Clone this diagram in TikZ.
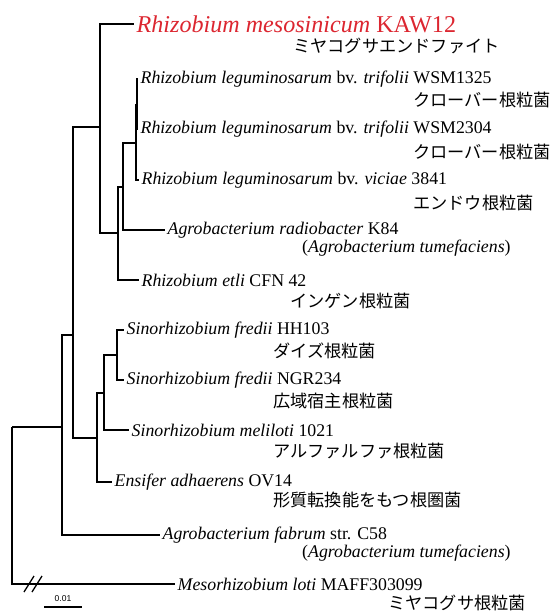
\documentclass[tikz,border=0pt]{standalone}
\usepackage{fontspec}
\setmainfont{Liberation Serif}
\setsansfont{Liberation Sans}
\newfontfamily\jafont{Noto Sans CJK JP}
\usepackage{tikz}
\usetikzlibrary{positioning}
\definecolor{kawred}{HTML}{DC2630}

\begin{document}
\begin{tikzpicture}[x=1pt,y=-1pt,
  branch/.style={line width=1.7pt,line join=miter},
  taxon/.style={anchor=west,inner sep=2.5pt,font=\fontsize{17.8}{20}\selectfont},
  common/.style={anchor=west,inner sep=0pt,font=\jafont\fontsize{17.2}{20}\selectfont}]
\useasboundingbox (0,0) rectangle (550,611);

\coordinate (root) at (12,427);
\coordinate (n1) at (62,427);
\coordinate (n2) at (73,335);
\coordinate (n3) at (100,127);
\coordinate (n4) at (118,233);
\coordinate (n5) at (123,187);
\coordinate (n6) at (136,143);
\coordinate (n7) at (137,105);
\coordinate (n8) at (97,438);
\coordinate (n9) at (104,393);
\coordinate (n10) at (117,355);

\node[taxon,text=kawred,font=\fontsize{24.1}{26}\selectfont] (kaw) at (134,24) {\textit{Rhizobium mesosinicum} KAW12};
\node[taxon] (wsm1325) at (138,79) {\textit{Rhizobium leguminosarum} bv. \textit{trifolii} WSM1325};
\node[taxon] (wsm2304) at (138,129) {\textit{Rhizobium leguminosarum} bv. \textit{trifolii} WSM2304};
\node[taxon] (v3841) at (139,180) {\textit{Rhizobium leguminosarum} bv. \textit{viciae} 3841};
\node[taxon] (k84) at (165,230) {\textit{Agrobacterium radiobacter} K84};
\node[taxon] (cfn) at (139,280) {\textit{Rhizobium etli} CFN 42};
\node[taxon] (hh) at (124,330) {\textit{Sinorhizobium fredii} HH103};
\node[taxon] (ngr) at (124,380) {\textit{Sinorhizobium fredii} NGR234};
\node[taxon] (mel) at (129,430) {\textit{Sinorhizobium meliloti} 1021};
\node[taxon] (ov) at (112,482) {\textit{Ensifer adhaerens} OV14};
\node[taxon] (c58) at (160,535) {\textit{Agrobacterium fabrum} str. C58};
\node[taxon] (maff) at (175,584) {\textit{Mesorhizobium loti} MAFF303099};

\node[common] (kaw-ja) at (293,46) {ミヤコグサエンドファイト};
\node[common] (wsm1325-ja) at (413,100) {クローバー根粒菌};
\node[common] (wsm2304-ja) at (413,152) {クローバー根粒菌};
\node[common] (v3841-ja) at (413,203) {エンドウ根粒菌};
\node[taxon,inner sep=0pt] (k84-syn) at (302,248) {(\textit{Agrobacterium tumefaciens})};
\node[common] (cfn-ja) at (290,301) {インゲン根粒菌};
\node[common] (hh-ja) at (273,351) {ダイズ根粒菌};
\node[common] (ngr-ja) at (273,401) {広域宿主根粒菌};
\node[common] (mel-ja) at (273,451) {アルファルファ根粒菌};
\node[common] (ov-ja) at (273,500) {形質転換能をもつ根圏菌};
\node[taxon,inner sep=0pt] (c58-syn) at (302,553) {(\textit{Agrobacterium tumefaciens})};
\node[common] (maff-ja) at (388,603) {ミヤコグサ根粒菌};

\draw[branch] (root) |- (maff.west);
\draw[branch] (root) -- (n1);
\draw[branch] (n1) |- (n2);
\draw[branch] (n1) |- (c58.west);
\draw[branch] (n2) |- (n3);
\draw[branch] (n2) |- (n8);
\draw[branch] (n3) |- (kaw.west);
\draw[branch] (n3) |- (n4);
\draw[branch] (n4) |- (n5);
\draw[branch] (n4) |- (cfn.west);
\draw[branch] (n5) |- (n6);
\draw[branch] (n5) |- (k84.west);
\draw[branch] (n6) |- (n7);
\draw[branch] (n6) |- (v3841.west);
\draw[branch] (n7) |- (wsm1325.west);
\draw[branch] (n7) |- (wsm2304.west);
\draw[branch] (n8) |- (n9);
\draw[branch] (n8) |- (ov.west);
\draw[branch] (n9) |- (n10);
\draw[branch] (n9) |- (mel.west);
\draw[branch] (n10) |- (hh.west);
\draw[branch] (n10) |- (ngr.west);

\coordinate (brk) at (33,584);
\draw[line width=1.3pt] ([xshift=-4pt]brk) ++(-5,8) -- ++(10,-16);
\draw[line width=1.3pt] ([xshift=4pt]brk) ++(-5,8) -- ++(10,-16);

\coordinate (bar) at (44,607);
\draw[line width=1.3pt] (bar) -- ++(38,0) node[midway,above=1pt,font=\sffamily\fontsize{8.5}{9}\selectfont] (barlabel) {0.01};
\end{tikzpicture}
\end{document}
